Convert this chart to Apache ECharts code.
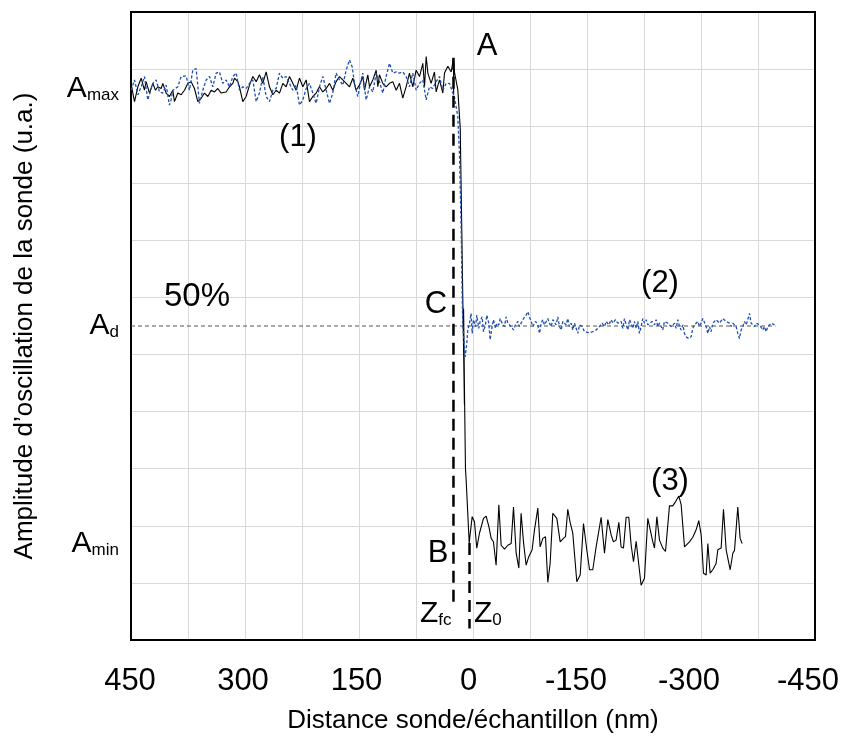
<!DOCTYPE html>
<html><head><meta charset="utf-8">
<script src="https://cdn.jsdelivr.net/npm/echarts@6/dist/echarts.min.js"></script>
<style>html,body{margin:0;padding:0;background:#fff}#c{width:842px;height:737px}</style>
</head><body><div id="c"></div>
<script>
const FONT = "'Liberation Sans', Arial, Helvetica, sans-serif";

// x-axis tick labels (nm)
const xTickLabels = [450, 300, 150, 0, -150, -300, -450];
// y-axis level labels
const yLevelValues = [1.68, 5.5, 9.65];
const yLevelSubs = ['min', 'd', 'max'];

// black curve: (1) approach, drop at Z_fc, (3) after contact
const curveBlack = [
[450,9.75],[445.4,9.43],[441,9.69],[436.6,9.84],[432.3,9.63],[430.1,9.78],[425.7,9.58],[421.3,9.75],[417.8,9.63],[414.7,9.69],[410.3,9.66],[408.1,9.75],[403.8,9.58],[399.4,9.52],[395,9.63],[392.8,9.43],[388.4,9.58],[384,9.55],[379.6,9.63],[375.2,9.75],[370.9,9.78],[366.5,9.66],[362.1,9.43],[357.7,9.49],[353.3,9.58],[348.9,9.52],[344.5,9.63],[340.2,9.6],[335.8,9.66],[331.4,9.58],[324.8,9.6],[320.4,9.69],[316,9.75],[313.8,9.84],[309.5,9.78],[307.3,9.69],[302.9,9.43],[298.5,9.52],[294.1,9.72],[289.7,9.87],[285.3,9.78],[281,9.9],[276.6,9.75],[272.2,9.95],[267.8,9.69],[263.4,9.55],[259,9.63],[254.6,9.58],[250.2,9.75],[245.9,9.69],[241.5,9.87],[237.1,9.75],[232.7,9.63],[228.3,9.84],[223.9,9.69],[219.5,9.81],[215.2,9.43],[210.8,9.52],[206.4,9.58],[202,9.69],[197.6,9.6],[193.2,9.66],[188.8,9.75],[184.5,9.63],[180.1,9.78],[175.7,9.87],[171.3,9.81],[166.9,9.75],[162.5,9.69],[158.1,9.84],[153.8,9.63],[149.4,9.72],[145,9.87],[142.8,9.63],[138.4,9.9],[136.2,9.69],[131.8,9.81],[127.4,9.98],[125.2,9.69],[123.1,9.9],[118.7,9.75],[114.3,9.69],[109.9,9.75],[105.5,9.78],[101.1,9.63],[96.7,9.75],[92.4,9.49],[88,9.69],[83.6,9.93],[79.2,9.69],[74.8,9.98],[70.4,9.87],[66,10.1],[63.8,9.69],[61.6,10.22],[59.4,9.93],[55.1,9.75],[50.7,9.95],[48.5,9.6],[44.1,9.81],[39.7,9.58],[37.5,9.93],[33.1,10.05],[28.7,9.95],[25.7,10.19],
[25.5,9.55],[25.3,10.15],[24.3,9.94],[20.0,9.64],[16.8,8.97],[15.5,7.83],[13.4,5.96],[12.6,5.95],[11.3,4.12],[12.4,5.8],[11.1,4.2],[12.2,5.6],[11.0,4.13],[9.9,3.0],[9.0,2.8],[5.0,1.7],
[1.1,2.16],[-1.9,2.07],[-5.0,1.61],[-8.5,1.87],[-10.7,1.84],[-13.8,2.13],[-17.3,2.17],[-20.8,1.99],[-23.9,1.78],[-26.9,1.72],[-30.4,1.31],[-34.0,2.37],[-37.0,1.66],[-41.4,1.59],[-45.8,1.66],[-50.2,1.69],[-53.3,2.33],[-56.8,1.52],[-60.3,1.26],[-63.3,2.22],[-66.4,1.72],[-69.9,1.31],[-73.4,1.46],[-77.8,1.58],[-80.9,1.93],[-85.3,2.31],[-88.3,1.63],[-91.9,1.78],[-95.4,1.81],[-98.4,1.01],[-101.5,1.34],[-105.0,2.22],[-110.3,2.13],[-114.7,1.72],[-119.0,1.78],[-121.7,1.81],[-124.7,2.29],[-127.8,2.06],[-131.3,1.87],[-136.6,1.02],[-141.0,1.14],[-145.4,2.04],[-149.7,1.58],[-153.3,1.23],[-157.6,1.23],[-162.0,1.63],[-168.6,2.15],[-173.0,1.52],[-177.4,2.11],[-181.8,1.84],[-184.8,1.72],[-188.3,1.75],[-191.9,2.06],[-194.9,1.63],[-198.0,1.61],[-201.5,2.15],[-205.0,2.15],[-208.1,1.66],[-211.2,1.37],[-214.7,1.73],[-216.9,1.72],[-221.2,0.96],[-225.6,1.08],[-230.0,2.13],[-232.2,2.13],[-236.6,1.72],[-238.8,1.61],[-241.9,2.16],[-245.4,1.75],[-249.7,1.61],[-253.3,1.55],[-258.5,2.35],[-262.9,2.35],[-266.4,2.42],[-270.8,2.52],[-273.9,2.37],[-278.3,1.63],[-284.8,1.72],[-289.2,1.80],[-293.6,1.93],[-297.1,2.09],[-300.2,1.84],[-303.3,1.17],[-306.8,1.14],[-309.0,1.69],[-312.0,1.17],[-315.5,1.23],[-319.9,1.34],[-322.1,1.58],[-326.5,1.61],[-329.6,2.29],[-333.1,1.58],[-338.4,1.23],[-341.9,1.52],[-344.1,1.57],[-348.4,2.33],[-351.5,1.78],[-354.1,1.69]
];

// blue dotted curve: (1) approach, drop, (2) after contact
const curveBlue = [
[449.8,9.63],[445.4,9.81],[441.0,9.55],[436.6,9.69],[432.3,9.87],[427.9,9.46],[425.7,9.43],[421.3,9.75],[416.9,9.81],[412.5,9.6],[408.1,9.58],[403.8,9.72],[399.4,9.37],[397.2,9.46],[395.0,9.63],[388.4,9.69],[384.0,9.87],[381.8,9.9],[377.4,9.88],[373.1,9.63],[368.7,9.98],[364.3,10.01],[359.9,9.4],[355.5,9.63],[351.1,9.81],[346.7,9.87],[342.4,9.69],[338.0,9.93],[333.6,9.95],[329.2,9.75],[324.8,9.81],[320.4,9.69],[316.0,9.87],[311.6,9.93],[307.3,9.63],[302.9,9.69],[298.5,9.66],[294.1,9.75],[289.7,9.81],[285.3,9.43],[281.0,9.58],[276.6,9.87],[272.2,9.52],[267.8,9.43],[263.4,9.63],[259.0,9.66],[254.6,9.93],[250.2,9.84],[245.9,9.87],[241.5,9.75],[237.1,9.63],[232.7,9.72],[228.3,9.37],[223.9,9.46],[219.5,9.66],[215.2,9.75],[210.8,9.58],[206.4,9.4],[202.0,9.69],[197.6,9.87],[193.2,9.63],[188.8,9.4],[184.5,9.58],[180.1,9.93],[175.7,9.81],[171.3,9.72],[166.9,9.98],[162.5,10.16],[159.0,10.04],[155.9,9.75],[151.6,9.52],[147.2,9.81],[145.0,9.93],[140.6,9.46],[136.2,9.69],[131.8,9.6],[127.4,9.93],[123.1,9.78],[118.7,9.58],[114.3,9.87],[109.9,10.1],[105.5,9.93],[101.1,9.95],[96.7,9.93],[92.4,9.95],[88.0,9.87],[83.6,9.69],[79.2,9.93],[74.8,9.63],[70.4,9.75],[66.0,9.81],[61.6,9.46],[57.3,9.69],[52.9,9.66],[48.5,9.78],[44.1,9.87],[39.7,9.63],[35.3,9.75],[30.9,9.75],[26.5,9.58],
[24.3,9.5],[20.0,9.17],[17.8,8.5],[15.5,7.15],[14.2,6.01],[13.4,5.5],[10.3,4.96],[8.5,5.15],
[6.8,5.43],[4.6,5.55],[2.5,5.72],[1.1,5.37],[-0.6,5.61],[-3.3,5.49],[-5.0,5.69],[-7.6,5.46],[-9.4,5.58],[-12.0,5.66],[-13.8,5.40],[-16.4,5.52],[-18.2,5.69],[-20.8,5.55],[-22.6,5.26],[-25.2,5.49],[-26.9,5.61],[-29.6,5.46],[-31.3,5.55],[-34.0,5.52],[-35.7,5.63],[-38.3,5.55],[-41.4,5.49],[-43.6,5.66],[-45.8,5.55],[-48.0,5.58],[-50.2,5.49],[-53.3,5.43],[-55.9,5.52],[-59.0,5.58],[-61.1,5.49],[-63.3,5.55],[-65.5,5.61],[-67.7,5.63],[-69.9,5.69],[-72.1,5.75],[-74.3,5.66],[-76.5,5.58],[-78.7,5.49],[-82.2,5.58],[-85.3,5.52],[-87.5,5.37],[-89.7,5.55],[-91.9,5.61],[-94.0,5.52],[-96.2,5.49],[-98.4,5.63],[-100.6,5.55],[-102.8,5.49],[-105.0,5.61],[-107.2,5.58],[-109.4,5.52],[-111.6,5.66],[-113.8,5.49],[-116.0,5.43],[-118.2,5.58],[-120.4,5.61],[-122.6,5.52],[-124.7,5.63],[-126.9,5.49],[-129.1,5.55],[-131.3,5.43],[-133.5,5.55],[-135.7,5.52],[-137.9,5.37],[-140.1,5.52],[-143.6,5.49],[-146.7,5.40],[-148.9,5.37],[-153.3,5.38],[-157.6,5.40],[-162.0,5.43],[-166.4,5.49],[-169.9,5.55],[-173.0,5.49],[-175.2,5.58],[-178.7,5.52],[-181.8,5.61],[-184.0,5.55],[-187.5,5.61],[-190.5,5.55],[-192.7,5.52],[-194.9,5.58],[-197.1,5.46],[-199.3,5.63],[-201.5,5.52],[-203.7,5.43],[-205.9,5.61],[-208.1,5.55],[-210.3,5.46],[-212.5,5.58],[-214.7,5.46],[-216.9,5.58],[-219.0,5.37],[-221.2,5.49],[-223.4,5.63],[-225.6,5.55],[-227.8,5.61],[-230.0,5.52],[-232.2,5.55],[-235.7,5.58],[-238.8,5.52],[-241.0,5.61],[-243.2,5.49],[-245.4,5.55],[-247.6,5.52],[-249.7,5.43],[-251.9,5.58],[-254.1,5.61],[-256.3,5.55],[-258.5,5.58],[-260.7,5.49],[-262.9,5.52],[-265.1,5.55],[-267.3,5.46],[-269.5,5.61],[-271.7,5.49],[-273.9,5.43],[-276.1,5.52],[-278.3,5.37],[-280.4,5.31],[-284.0,5.28],[-287.0,5.31],[-289.2,5.46],[-291.4,5.52],[-293.6,5.55],[-295.8,5.58],[-298.0,5.49],[-300.2,5.55],[-302.4,5.63],[-304.6,5.61],[-306.8,5.49],[-309.0,5.37],[-311.2,5.49],[-313.3,5.40],[-315.5,5.55],[-317.7,5.58],[-319.9,5.61],[-322.1,5.63],[-324.3,5.55],[-326.5,5.58],[-328.7,5.63],[-330.9,5.66],[-333.1,5.58],[-335.3,5.61],[-337.5,5.55],[-339.7,5.49],[-341.9,5.55],[-344.1,5.58],[-346.2,5.49],[-348.4,5.37],[-350.6,5.28],[-352.8,5.43],[-355.0,5.49],[-357.2,5.58],[-359.4,5.52],[-361.6,5.61],[-363.8,5.72],[-366.0,5.55],[-368.2,5.58],[-370.4,5.49],[-372.6,5.55],[-374.8,5.58],[-377.0,5.52],[-379.1,5.49],[-381.3,5.43],[-383.5,5.49],[-385.7,5.40],[-387.9,5.49],[-390.1,5.52],[-392.3,5.55],[-394.5,5.58],[-396.7,5.52]
];

// reference lines
const zfcLine = [[25.7, 10.2], [25.7, 0.55]];
const z0Line = [[4.6, 1.7], [4.6, 0.2]];
const adLine = [[450, 5.5], [-398, 5.5]];

// label nudges (style only): extra right padding shifts a centred label left
const labelNudge = {'450': 2, '300': 4, '150': 5, '0': 9, '-150': 22, '-300': 24, '-450': 14};

const chart = echarts.init(document.getElementById('c'), null, {renderer: 'canvas'});

function txt(x, y, text, size) {
  return {type: 'text', x: x, y: y, silent: true, z: 100,
    style: {text: text, fontSize: size || 31, fontFamily: FONT, fill: '#000',
      align: 'center', verticalAlign: 'middle', textAlign: 'center', textVerticalAlign: 'middle'}};
}
function subTxt(x, y, main, sub) {
  return {type: 'text', x: x, y: y, silent: true, z: 100,
    style: {text: '{a|' + main + '}{s|' + sub + '}', fontFamily: FONT, fill: '#000',
      align: 'left', verticalAlign: 'middle', textAlign: 'left', textVerticalAlign: 'middle',
      rich: {a: {fontSize: 30, fontFamily: FONT, lineHeight: 30, verticalAlign: 'bottom'},
             s: {fontSize: 17, fontFamily: FONT, lineHeight: 8, verticalAlign: 'bottom'}}}};
}

const xRich = {};
Object.keys(labelNudge).forEach(function (k, i) {
  xRich['l' + i] = {fontSize: 31, fontFamily: FONT, color: '#000', padding: [0, labelNudge[k], 0, 0]};
});
const nudgeKeys = Object.keys(labelNudge);

const bareAxis = {axisLine: {show: true, onZero: false, lineStyle: {color: '#000', width: 2}},
                  axisTick: {show: false}, axisLabel: {show: false}, splitLine: {show: false}};

const option = {
  animation: false,
  backgroundColor: '#fff',
  grid: {left: 131, top: 12, width: 684, height: 628, show: true, borderColor: '#000', borderWidth: 2,
         backgroundColor: 'transparent', outerBoundsMode: 'none', containLabel: false},
  xAxis: [{
    type: 'value', min: -450, max: 450, interval: 75, inverse: true,
    axisLine: {show: true, onZero: false, lineStyle: {color: '#000', width: 2}}, axisTick: {show: false},
    splitLine: {show: true, lineStyle: {color: '#d9d9d9', width: 1}},
    axisLabel: {
      customValues: xTickLabels, fontSize: 31, fontFamily: FONT, color: '#000', margin: 26,
      formatter: function (v) {
        const i = nudgeKeys.indexOf(String(v));
        return i >= 0 ? '{l' + i + '|' + v + '}' : String(v);
      },
      rich: xRich
    },
    name: 'Distance sonde/échantillon (nm)', nameLocation: 'middle', nameGap: 68,
    nameTextStyle: {fontSize: 26, fontFamily: FONT, color: '#000'}
  }, Object.assign({type: 'value', position: 'top', min: -450, max: 450, inverse: true}, bareAxis)],
  yAxis: [{
    type: 'value', min: 0, max: 11, interval: 1,
    axisLine: {show: true, onZero: false, lineStyle: {color: '#000', width: 2}}, axisTick: {show: false},
    splitLine: {show: true, lineStyle: {color: '#d9d9d9', width: 1}},
    axisLabel: {
      customValues: yLevelValues, margin: 12,
      formatter: function (v) {
        let i = yLevelValues.indexOf(v);
        if (i < 0) { i = 0; let best = 1e9; yLevelValues.forEach((w, k) => { if (Math.abs(w - v) < best) { best = Math.abs(w - v); i = k; } }); }
        return '{a|A}{s|' + yLevelSubs[i] + '}';
      },
      rich: {a: {fontSize: 30, fontFamily: FONT, color: '#000', lineHeight: 30, verticalAlign: 'bottom'},
             s: {fontSize: 17, fontFamily: FONT, color: '#000', lineHeight: 8, verticalAlign: 'bottom'}}
    },
    name: 'Amplitude d’oscillation de la sonde (u.a.)', nameLocation: 'middle', nameRotate: 90, nameGap: 93,
    nameTextStyle: {fontSize: 26, fontFamily: FONT, color: '#000'}
  }, Object.assign({type: 'value', position: 'right', min: 0, max: 11}, bareAxis)],
  series: [
    {type: 'line', data: adLine, showSymbol: false, silent: true, z: 2,
     lineStyle: {color: '#555', width: 1, type: [4, 3]}},
    {type: 'line', data: curveBlack, showSymbol: false, silent: true, z: 3,
     lineStyle: {color: '#000', width: 1.1}},
    {type: 'line', data: curveBlue, showSymbol: false, silent: true, z: 4,
     lineStyle: {color: '#1f4fb0', width: 1.3, type: [3, 2]}},
    {type: 'line', data: zfcLine, showSymbol: false, silent: true, z: 5,
     lineStyle: {color: '#000', width: 2.5, type: [12, 7]}},
    {type: 'line', data: z0Line, showSymbol: false, silent: true, z: 5,
     lineStyle: {color: '#000', width: 2.5, type: [12, 7]}}
  ],
  graphic: [
    txt(487, 46, 'A'),
    txt(298, 137, '(1)'),
    txt(660, 283, '(2)'),
    txt(670, 481, '(3)'),
    txt(197, 297, '50%', 33),
    txt(436, 304, 'C'),
    txt(438, 553, 'B'),
    subTxt(420, 614, 'Z', 'fc'),
    subTxt(474, 614, 'Z', '0')
  ]
};
chart.setOption(option);
</script></body></html>
